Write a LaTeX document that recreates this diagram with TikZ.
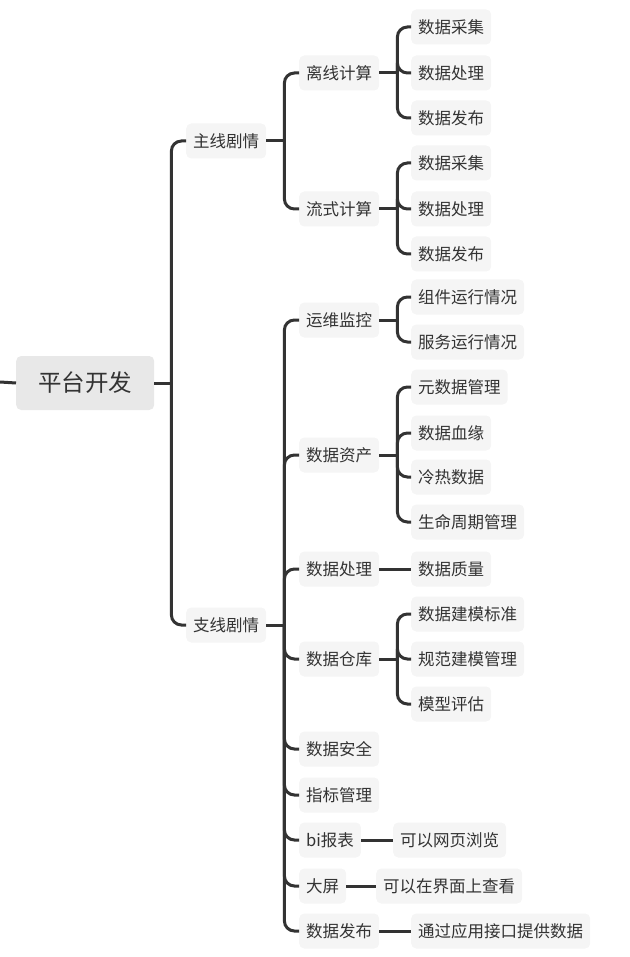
\documentclass[tikz,border=0pt]{standalone}
\usepackage{fontspec}
\setmainfont{Noto Sans CJK SC}
\definecolor{ink}{HTML}{333333}
\definecolor{boxgray}{HTML}{F5F5F5}
\definecolor{rootgray}{HTML}{E8E8E8}
\tikzset{
  topic/.style={fill=boxgray, rounded corners=5pt, text=ink, anchor=west,
    font=\fontsize{16.5pt}{18pt}\selectfont, inner xsep=7pt, minimum height=35pt},
  roottopic/.style={topic, fill=rootgray, font=\fontsize{23.5pt}{26pt}\selectfont,
    inner xsep=22pt, minimum height=54pt},
  link/.style={draw=ink, line width=3pt, rounded corners=10pt},
}

\begin{document}
\begin{tikzpicture}[x=1pt,y=-1pt]
\useasboundingbox (0,0) rectangle (629,957);
% root and first level
\node[roottopic] (root) at (16,383) {平台开发};
\node[topic] (main) at (186,141) {主线剧情};
\node[topic] (side) at (186,625) {支线剧情};
% main line
\node[topic] (offline) at (299,73) {离线计算};
\node[topic] (stream) at (299,209) {流式计算};
\node[topic] (offcollect) at (411,27) {数据采集};
\node[topic] (offprocess) at (411,73) {数据处理};
\node[topic] (offpublish) at (411,118) {数据发布};
\node[topic] (stcollect) at (411,163) {数据采集};
\node[topic] (stprocess) at (411,209) {数据处理};
\node[topic] (stpublish) at (411,254) {数据发布};
% side line
\node[topic] (ops) at (299,320) {运维监控};
\node[topic] (opscomp) at (411,297) {组件运行情况};
\node[topic] (opsserv) at (411,342) {服务运行情况};
\node[topic] (asset) at (299,455) {数据资产};
\node[topic] (meta) at (411,387) {元数据管理};
\node[topic] (lineage) at (411,433) {数据血缘};
\node[topic] (hotcold) at (411,477) {冷热数据};
\node[topic] (lifecycle) at (411,522) {生命周期管理};
\node[topic] (process) at (299,569) {数据处理};
\node[topic] (quality) at (411,569) {数据质量};
\node[topic] (warehouse) at (299,659) {数据仓库};
\node[topic] (modelstd) at (411,614) {数据建模标准};
\node[topic] (modelmgr) at (411,659) {规范建模管理};
\node[topic] (modeleval) at (411,704) {模型评估};
\node[topic] (security) at (299,749) {数据安全};
\node[topic] (metric) at (299,795) {指标管理};
\node[topic] (report) at (299,840) {bi报表};
\node[topic] (web) at (393,840) {可以网页浏览};
\node[topic] (screen) at (299,886) {大屏};
\node[topic] (ui) at (376,886) {可以在界面上查看};
\node[topic] (publish) at (299,931) {数据发布};
\node[topic] (api) at (411,931) {通过应用接口提供数据};
% connectors
\coordinate (tail) at (0,382);
\draw[link] (tail) -- (root.west);
\draw[link] (root.east) -- ++(17,0);
\draw[link] ([xshift=17pt]root.east) |- (main.west);
\draw[link] ([xshift=17pt]root.east) |- (side.west);
\draw[link] (main.east) -- ++(18,0);
\draw[link] ([xshift=18pt]main.east) |- (offline.west);
\draw[link] ([xshift=18pt]main.east) |- (stream.west);
\draw[link] (offline.east) -- ++(18,0);
\draw[link] ([xshift=18pt]offline.east) |- (offcollect.west);
\draw[link] ([xshift=18pt]offline.east) |- (offprocess.west);
\draw[link] ([xshift=18pt]offline.east) |- (offpublish.west);
\draw[link] (stream.east) -- ++(18,0);
\draw[link] ([xshift=18pt]stream.east) |- (stcollect.west);
\draw[link] ([xshift=18pt]stream.east) |- (stprocess.west);
\draw[link] ([xshift=18pt]stream.east) |- (stpublish.west);
\draw[link] (side.east) -- ++(18,0);
\draw[link] ([xshift=18pt]side.east) |- (ops.west);
\draw[link] ([xshift=18pt]side.east) |- (asset.west);
\draw[link] ([xshift=18pt]side.east) |- (process.west);
\draw[link] ([xshift=18pt]side.east) |- (warehouse.west);
\draw[link] ([xshift=18pt]side.east) |- (security.west);
\draw[link] ([xshift=18pt]side.east) |- (metric.west);
\draw[link] ([xshift=18pt]side.east) |- (report.west);
\draw[link] ([xshift=18pt]side.east) |- (screen.west);
\draw[link] ([xshift=18pt]side.east) |- (publish.west);
\draw[link] (ops.east) -- ++(18,0);
\draw[link] ([xshift=18pt]ops.east) |- (opscomp.west);
\draw[link] ([xshift=18pt]ops.east) |- (opsserv.west);
\draw[link] (asset.east) -- ++(18,0);
\draw[link] ([xshift=18pt]asset.east) |- (meta.west);
\draw[link] ([xshift=18pt]asset.east) |- (lineage.west);
\draw[link] ([xshift=18pt]asset.east) |- (hotcold.west);
\draw[link] ([xshift=18pt]asset.east) |- (lifecycle.west);
\draw[link] (process.east) -- (quality.west);
\draw[link] (warehouse.east) -- ++(18,0);
\draw[link] ([xshift=18pt]warehouse.east) |- (modelstd.west);
\draw[link] ([xshift=18pt]warehouse.east) |- (modelmgr.west);
\draw[link] ([xshift=18pt]warehouse.east) |- (modeleval.west);
\draw[link] (report.east) -- (web.west);
\draw[link] (screen.east) -- (ui.west);
\draw[link] (publish.east) -- (api.west);
\end{tikzpicture}
\end{document}
